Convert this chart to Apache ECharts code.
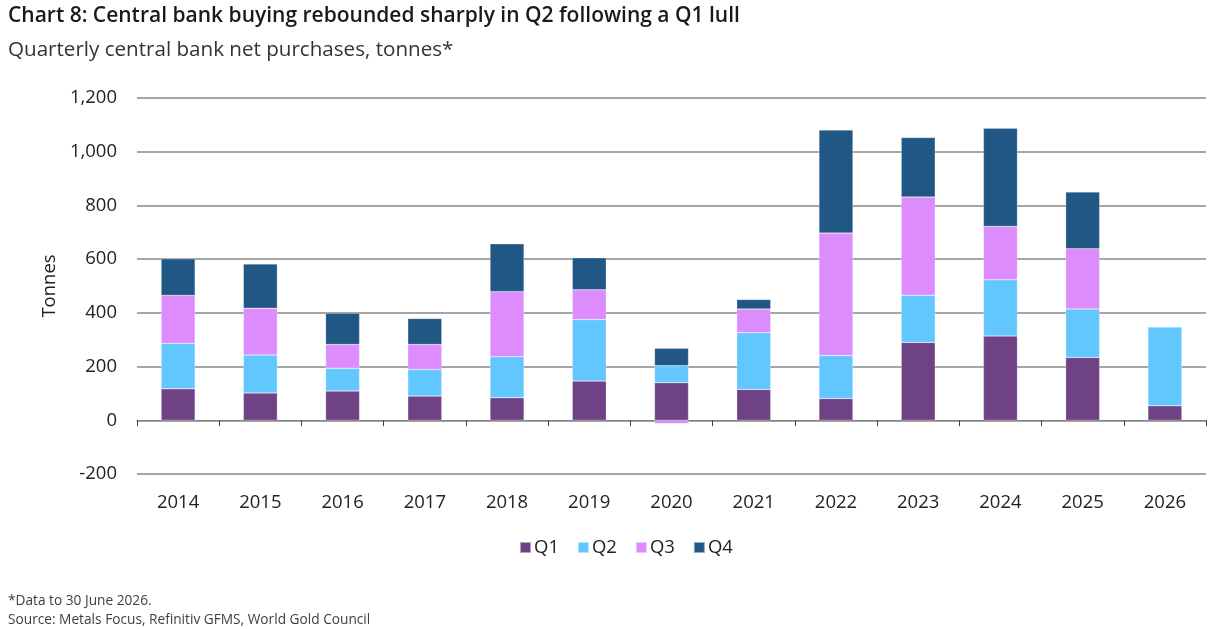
<!DOCTYPE html>
<html>
<head>
<meta charset="utf-8">
<script src="https://cdn.jsdelivr.net/npm/echarts@6/dist/echarts.min.js"></script>
<style>
  html, body { margin: 0; padding: 0; background: #fff; }
  #chart { width: 1210px; height: 629px; }
</style>
</head>
<body>
<div id="chart"></div>
<script>
// 年份
const years = ['2014', '2015', '2016', '2017', '2018', '2019', '2020', '2021', '2022', '2023', '2024', '2025', '2026']
// 季度净购买量（吨）
const q1 = [117, 102, 109, 90, 84, 146, 140, 115, 81, 290, 314, 234, 54]
const q2 = [169, 141, 85, 99, 153, 229, 63, 211, 160, 176, 209, 180, 293]
const q3 = [179, 174, 88, 93, 242, 111, -12, 88, 456, 365, 199, 225, null]
const q4 = [136, 165, 117, 97, 178, 119, 65, 36, 384, 222, 365, 211, null]
const quarterNames = ['Q1', 'Q2', 'Q3', 'Q4']
const color = ['#6f4285', '#62c6ff', '#dc8cfc', '#215784']

const font = '"Open Sans", "Noto Sans", sans-serif'
const chart = echarts.init(document.getElementById('chart'), null, { renderer: 'canvas' })

function makeSeries(name, data) {
  return {
    name: name,
    type: 'bar',
    stack: 'total',
    barWidth: 34,
    data: data,
    itemStyle: {
      borderColor: 'rgba(255,255,255,0.5)',
      borderWidth: 0.5
    }
  }
}

var option = {
  color: color,
  animation: false,
  textStyle: { fontFamily: font },
  title: [{
    text: 'Chart 8: Central bank buying rebounded sharply in Q2 following a Q1 lull',
    left: 8,
    top: 6,
    padding: 0,
    textStyle: { fontFamily: font, fontSize: 21, fontWeight: 600, color: '#1a1a1a' }
  }, {
    text: 'Quarterly central bank net purchases, tonnes*',
    left: 8,
    top: 40,
    padding: 0,
    textStyle: { fontFamily: font, fontSize: 20.6, fontWeight: 'normal', color: '#333' }
  }, {
    text: '*Data to 30 June 2026.\nSource: Metals Focus, Refinitiv GFMS, World Gold Council',
    left: 8,
    top: 592,
    padding: 0,
    textStyle: { fontFamily: font, fontSize: 13.7, fontWeight: 'normal', color: '#404040', lineHeight: 19 }
  }],
  legend: {
    bottom: 67,
    left: 514,
    itemWidth: 11,
    itemHeight: 11,
    itemGap: 18,
    icon: 'rect',
    textStyle: { fontFamily: font, fontSize: 18.5, color: '#222', padding: [0, 0, 0, -2] },
    data: quarterNames
  },
  grid: {
    left: 137,
    right: 4,
    top: 98,
    bottom: 155
  },
  xAxis: {
    type: 'category',
    data: years,
    position: 'bottom',
    axisLine: { onZero: true, lineStyle: { color: '#808080', width: 1 } },
    axisTick: { show: true, length: 6, lineStyle: { color: '#404040' } },
    axisLabel: {
      interval: 0,
      fontFamily: font,
      fontSize: 18.5,
      color: '#222',
      margin: 19
    }
  },
  yAxis: {
    type: 'value',
    min: -200,
    max: 1200,
    interval: 200,
    name: 'Tonnes',
    nameLocation: 'middle',
    nameGap: 76,
    nameRotate: 90,
    nameTextStyle: { fontFamily: font, fontSize: 18.5, color: '#222' },
    axisLine: { show: false },
    axisTick: { show: false },
    axisLabel: {
      margin: 20,
      fontFamily: font,
      fontSize: 18.5,
      color: '#222',
      formatter: function (v) { return v.toLocaleString('en-US') }
    },
    splitLine: { show: true, lineStyle: { color: '#a6a6a6', width: 2 } }
  },
  series: [
    makeSeries(quarterNames[0], q1),
    makeSeries(quarterNames[1], q2),
    makeSeries(quarterNames[2], q3),
    makeSeries(quarterNames[3], q4)
  ]
}
chart.setOption(option)
</script>
</body>
</html>
